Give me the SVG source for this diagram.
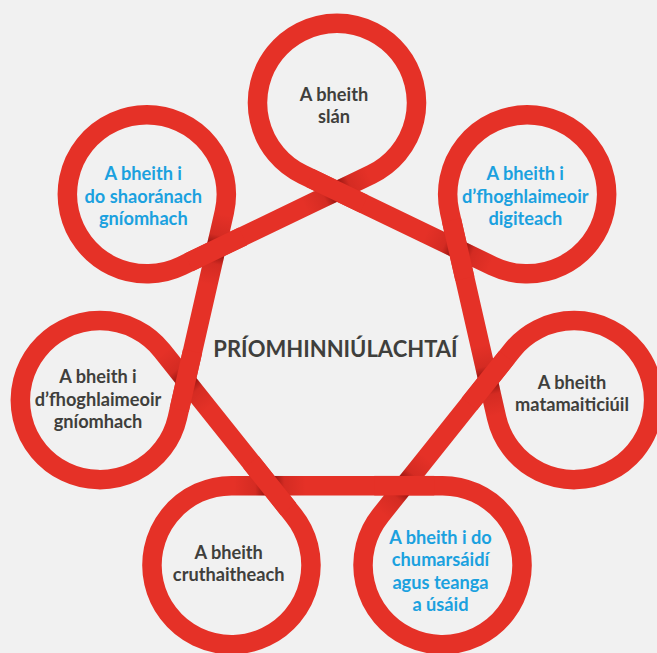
<svg xmlns="http://www.w3.org/2000/svg" width="657" height="653" viewBox="0 0 657 653">
<defs>
<style>
.bg{fill:#f1f1f1}
.rib{fill:none;stroke:#e53127;stroke-width:19.5;stroke-linejoin:round}
.over{fill:#e53127}
.shd{fill:url(#shade)}
.t{font-family:Lato,"Liberation Sans",sans-serif;font-weight:700;font-size:18.2px;text-anchor:middle}
.dk{fill:#3f3f3c}
.bl{fill:#1ba1df}
.title{font-family:Lato,"Liberation Sans",sans-serif;font-weight:700;font-size:22px;text-anchor:middle;fill:#3f3f3c}
</style>
<linearGradient id="shade" x1="0" y1="0" x2="1" y2="0">
<stop offset="0" stop-color="#5a0000" stop-opacity="0"/>
<stop offset="0.3" stop-color="#5a0000" stop-opacity="0.12"/>
<stop offset="0.42" stop-color="#5a0000" stop-opacity="0.5"/>
<stop offset="0.58" stop-color="#5a0000" stop-opacity="0.5"/>
<stop offset="0.7" stop-color="#5a0000" stop-opacity="0.12"/>
<stop offset="1" stop-color="#5a0000" stop-opacity="0"/>
</linearGradient>
</defs>
<rect class="bg" x="0" y="0" width="657" height="653"/>
<g id="connectors">
<path class="rib" d="M 302.51 174.39 L 492.67 265.97 A 79.5 79.5 0 1 0 449.66 212.04 L 496.63 417.81 A 79.5 79.5 0 1 0 511.98 350.56 L 380.38 515.58 A 79.5 79.5 0 1 0 442.53 485.65 L 231.47 485.65 A 79.5 79.5 0 1 0 293.62 515.58 L 162.02 350.56 A 79.5 79.5 0 1 0 177.37 417.81 L 224.34 212.04 A 79.5 79.5 0 1 0 181.33 265.97 L 371.49 174.39 A 79.5 79.5 0 1 0 302.51 174.39 Z"/>
<g id="crossings">
<rect class="shd" x="-36" y="-9.75" width="72" height="19.5" transform="translate(337 191) rotate(-25.714)"/>
<rect class="over" x="-30" y="-9.75" width="60" height="19.5" transform="translate(337 191) rotate(25.714)"/>
<rect class="shd" x="-36" y="-9.75" width="72" height="19.5" transform="translate(458.18 249.36) rotate(25.714)"/>
<rect class="over" x="-30" y="-9.75" width="60" height="19.5" transform="translate(458.18 249.36) rotate(77.143)"/>
<rect class="shd" x="-36" y="-9.75" width="72" height="19.5" transform="translate(488.11 380.49) rotate(77.143)"/>
<rect class="over" x="-30" y="-9.75" width="60" height="19.5" transform="translate(488.11 380.49) rotate(128.571)"/>
<rect class="shd" x="-36" y="-9.75" width="72" height="19.5" transform="translate(404.25 485.65) rotate(128.571)"/>
<rect class="over" x="-30" y="-9.75" width="60" height="19.5" transform="translate(404.25 485.65) rotate(180)"/>
<rect class="shd" x="-36" y="-9.75" width="72" height="19.5" transform="translate(269.75 485.65) rotate(180)"/>
<rect class="over" x="-30" y="-9.75" width="60" height="19.5" transform="translate(269.75 485.65) rotate(231.429)"/>
<rect class="shd" x="-36" y="-9.75" width="72" height="19.5" transform="translate(185.89 380.49) rotate(231.429)"/>
<rect class="over" x="-30" y="-9.75" width="60" height="19.5" transform="translate(185.89 380.49) rotate(282.857)"/>
<rect class="shd" x="-36" y="-9.75" width="72" height="19.5" transform="translate(215.82 249.36) rotate(282.857)"/>
<rect class="over" x="-30" y="-9.75" width="60" height="19.5" transform="translate(215.82 249.36) rotate(334.286)"/>
</g>
</g>
<g id="title"><text class="title" x="335.5" y="356.5">PRÍOMHINNIÚLACHTAÍ</text></g>
<g id="node-slan"><text class="t dk" x="334" y="100.7">A bheith</text><text class="t dk" x="334" y="123.3">slán</text></g>
<g id="node-saoranach"><text class="t bl" x="143.3" y="180">A bheith i</text><text class="t bl" x="143.3" y="202.7">do shaoránach</text><text class="t bl" x="143.3" y="225.3">gníomhach</text></g>
<g id="node-digiteach"><text class="t bl" x="525.3" y="180">A bheith i</text><text class="t bl" x="525.3" y="202.7">d’fhoghlaimeoir</text><text class="t bl" x="525.3" y="225.3">digiteach</text></g>
<g id="node-gniomhach"><text class="t dk" x="98" y="383">A bheith i</text><text class="t dk" x="98" y="405.7">d’fhoghlaimeoir</text><text class="t dk" x="98" y="428">gníomhach</text></g>
<g id="node-matamaiticiuil"><text class="t dk" x="572" y="388.7">A bheith</text><text class="t dk" x="572" y="411.3">matamaiticiúil</text></g>
<g id="node-cruthaitheach"><text class="t dk" x="228.7" y="558.7">A bheith</text><text class="t dk" x="228.7" y="580.7">cruthaitheach</text></g>
<g id="node-chumarsaidi"><text class="t bl" x="440.5" y="544">A bheith i do</text><text class="t bl" x="440.5" y="566.3">chumarsáidí</text><text class="t bl" x="440.5" y="588.7">agus teanga</text><text class="t bl" x="440.5" y="611.3">a úsáid</text></g>
</svg>
